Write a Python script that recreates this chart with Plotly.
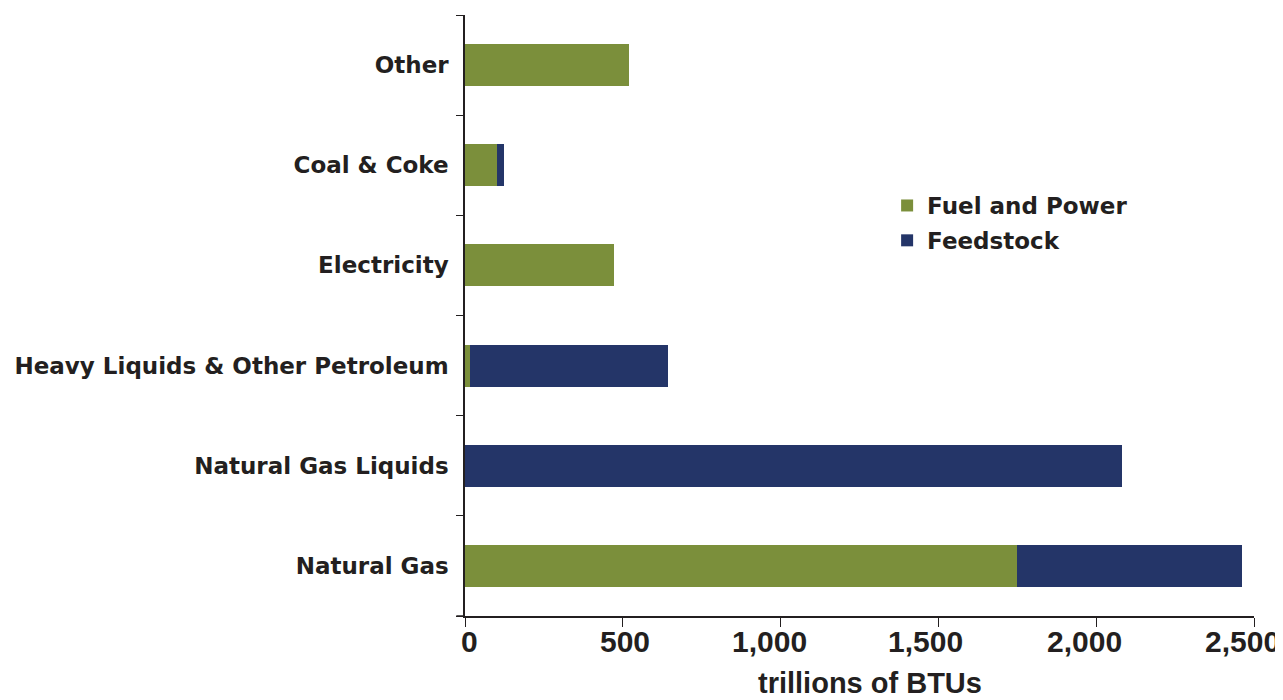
import plotly.graph_objects as go

categories = ["Natural Gas", "Natural Gas Liquids", "Heavy Liquids & Other Petroleum",
              "Electricity", "Coal & Coke", "Other"]
fuel_and_power = [1750, 0, 15, 472, 100, 521]
feedstock = [713, 2082, 628, 0, 24, 0]
x_ticks = [0, 500, 1000, 1500, 2000, 2500]
x_tick_labels = ["0", "500", "1,000", "1,500", "2,000", "2,500"]

# styling: horizontal nudge (px) of each x tick label, as in the reference
label_nudge = [4, 2, -11, -13, -12, -12]

GREEN = "#7b8f3b"
BLUE = "#243568"
TEXT = "#231f20"
label_font = dict(family="DejaVu Sans", size=23, color=TEXT)
num_font = dict(family="Liberation Sans, Arial", size=30, color=TEXT)
title_font = dict(family="Liberation Sans, Arial", size=29, color=TEXT)

fig = go.Figure()
fig.add_trace(go.Bar(y=categories, x=fuel_and_power, orientation="h", name="<b>Fuel and Power</b>",
                     marker=dict(color=GREEN, line=dict(width=0)), legend="legend", showlegend=True))
fig.add_trace(go.Bar(y=categories, x=feedstock, orientation="h", name="<b>Feedstock</b>",
                     marker=dict(color=BLUE, line=dict(width=0)), legend="legend2", showlegend=True))

leg_common = dict(xanchor="left", yanchor="middle", font=label_font,
                  bgcolor="rgba(0,0,0,0)", itemwidth=30)

annotations = []
for t, lab, dx in zip(x_ticks, x_tick_labels, label_nudge):
    annotations.append(dict(x=t, xref="x", y=0, yref="paper", text="<b>%s</b>" % lab,
                            showarrow=False, xanchor="center", yanchor="middle",
                            xshift=dx, yshift=-25, font=num_font))
annotations.append(dict(x=0.5, xref="paper", y=0, yref="paper", text="<b>trillions of BTUs</b>",
                        showarrow=False, xanchor="center", yanchor="middle",
                        xshift=10, yshift=-67, font=title_font))

fig.update_layout(
    showlegend=True,
    barmode="stack",
    bargap=0.58,
    width=1275, height=700,
    margin=dict(l=457, r=29, t=7, b=92, autoexpand=False),
    plot_bgcolor="white", paper_bgcolor="white",
    legend=dict(x=0.535, y=0.683, **leg_common),
    legend2=dict(x=0.535, y=0.625, **leg_common),
    xaxis=dict(range=[0, 2500], tickvals=x_ticks, showticklabels=False,
               showgrid=False, zeroline=False, automargin=False,
               showline=True, linecolor=TEXT, linewidth=1.5,
               ticks="outside", ticklen=9, tickcolor=TEXT),
    yaxis=dict(categoryorder="array", categoryarray=categories, automargin=False,
               tickvals=categories, ticktext=["<b>%s</b>" % c for c in categories],
               tickfont=label_font, showgrid=False, zeroline=False,
               showline=True, linecolor=TEXT, linewidth=1.5,
               ticks="outside", ticklen=7, tickcolor=TEXT, tickson="boundaries",
               ticklabelstandoff=10),
    shapes=[dict(type="line", xref="paper", yref="paper", x0=-0.011, x1=0, y0=0, y1=0,
                 line=dict(color=TEXT, width=1.5))],
    annotations=annotations,
)

fig.write_html("out.html")
